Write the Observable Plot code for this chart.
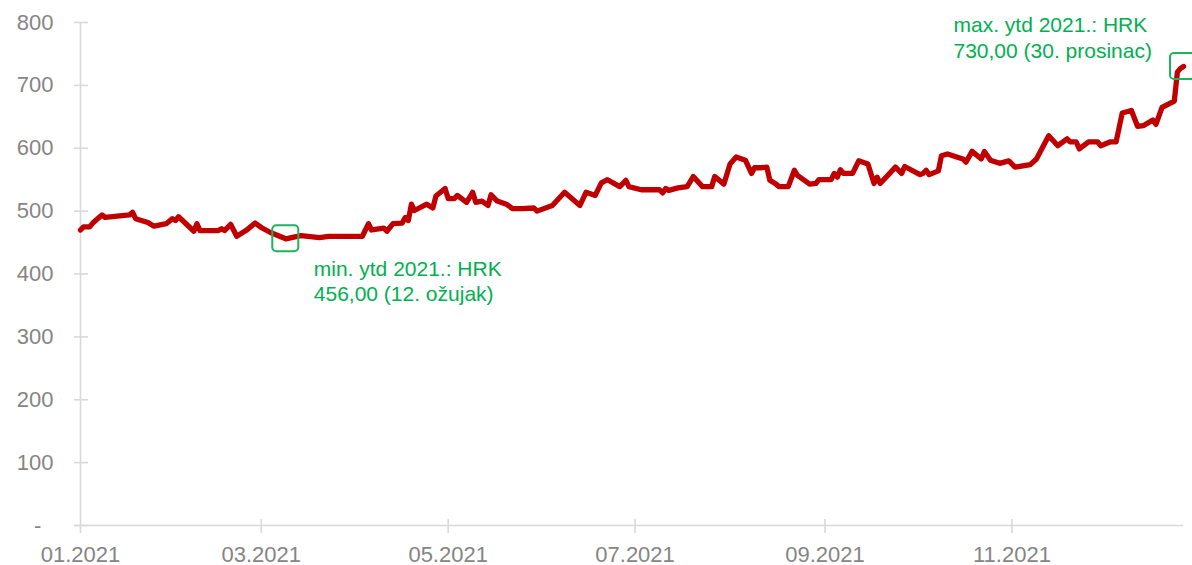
<!DOCTYPE html>
<html><head><meta charset="utf-8">
<script src="https://cdn.jsdelivr.net/npm/d3@7"></script>
<script src="https://cdn.jsdelivr.net/npm/@observablehq/plot@0.6"></script>
<style>html,body{margin:0;padding:0;background:#fff;}</style>
</head><body><div id="chart"></div>
<script>
const dates = [
"2021-01-04","2021-01-05","2021-01-07","2021-01-08","2021-01-11","2021-01-12","2021-01-20","2021-01-21","2021-01-22","2021-01-26",
"2021-01-28","2021-02-01","2021-02-03","2021-02-04","2021-02-05","2021-02-07","2021-02-10","2021-02-11","2021-02-12","2021-02-18",
"2021-02-19","2021-02-20","2021-02-22","2021-02-24","2021-02-27","2021-03-02","2021-03-04","2021-03-07","2021-03-10","2021-03-12",
"2021-03-15","2021-03-16","2021-03-17","2021-03-23","2021-03-26","2021-04-06","2021-04-08","2021-04-09","2021-04-13","2021-04-14",
"2021-04-16","2021-04-19","2021-04-20","2021-04-21","2021-04-22","2021-04-23","2021-04-27","2021-04-29","2021-04-30","2021-05-03",
"2021-05-04","2021-05-06","2021-05-07","2021-05-10","2021-05-12","2021-05-13","2021-05-15","2021-05-17","2021-05-18","2021-05-20",
"2021-05-23","2021-05-25","2021-05-28","2021-06-01","2021-06-02","2021-06-07","2021-06-11","2021-06-16","2021-06-18","2021-06-21",
"2021-06-23","2021-06-25","2021-06-29","2021-07-01","2021-07-02","2021-07-06","2021-07-12","2021-07-13","2021-07-14","2021-07-15",
"2021-07-18","2021-07-21","2021-07-23","2021-07-26","2021-07-29","2021-07-30","2021-08-02","2021-08-04","2021-08-06","2021-08-09",
"2021-08-11","2021-08-12","2021-08-14","2021-08-16","2021-08-17","2021-08-19","2021-08-20","2021-08-23","2021-08-25","2021-08-26",
"2021-08-30","2021-09-01","2021-09-02","2021-09-06","2021-09-07","2021-09-08","2021-09-09","2021-09-10","2021-09-13","2021-09-15",
"2021-09-18","2021-09-20","2021-09-21","2021-09-22","2021-09-27","2021-09-29","2021-09-30","2021-10-05","2021-10-06","2021-10-07",
"2021-10-08","2021-10-11","2021-10-12","2021-10-14","2021-10-19","2021-10-20","2021-10-22","2021-10-25","2021-10-26","2021-10-28",
"2021-10-31","2021-11-03","2021-11-05","2021-11-10","2021-11-12","2021-11-16","2021-11-19","2021-11-22","2021-11-23","2021-11-25",
"2021-11-26","2021-11-29","2021-12-02","2021-12-03","2021-12-06","2021-12-08","2021-12-10","2021-12-13","2021-12-15","2021-12-17",
"2021-12-20","2021-12-21","2021-12-23","2021-12-27","2021-12-28","2021-12-29","2021-12-30"
];
const prices = [
470,475,475,481,494,490,494,498,488,482,
476,480,488,485,491,482,468,480,469,469,
472,469,479,460,469,481,474,466,460,456,
459,460,461,458,460,460,480,470,473,468,
480,481,490,485,511,501,511,505,524,536,
520,520,525,514,530,514,516,509,526,516,
511,504,504,505,500,509,530,509,530,525,
545,550,539,549,539,534,534,529,536,533,
537,539,555,539,539,555,543,575,586,581,
560,569,569,570,549,543,539,539,565,557,
543,544,550,550,560,554,566,560,560,580,
575,544,554,544,570,560,571,558,560,565,
558,564,588,591,583,578,595,583,595,581,
576,580,570,574,583,620,604,615,610,610,
599,610,610,604,610,610,656,660,635,636,
645,638,665,675,721,727,730
];
const xTickDates = ["2021-01-04","2021-03-04","2021-05-04","2021-07-04","2021-09-04","2021-11-04"];
const xTickLabels = ["01.2021","03.2021","05.2021","07.2021","09.2021","11.2021"];
const yTicks = [0,100,200,300,400,500,600,700,800];
const monthNames = ["siječanj","veljača","ožujak","travanj","svibanj","lipanj","srpanj","kolovoz","rujan","listopad","studeni","prosinac"];
const currency = "HRK";
const year = 2021;

const data = dates.map((d, i) => ({date: new Date(d), price: prices[i]}));
const minP = d3.least(data, d => d.price);
const maxP = d3.greatest(data, d => d.price);
const fmt = v => v.toFixed(2).replace(".", ",");
const label = (kind, p) => `${kind} ytd ${year}.: ${currency}\n${fmt(p.price)} (${p.date.getUTCDate()}. ${monthNames[p.date.getUTCMonth()]})`;
const xTicks = xTickDates.map(d => new Date(d));
const tickLabel = new Map(xTicks.map((d, i) => [+d, xTickLabels[i]]));

const W = 1192, H = 565, mL = 80, mR = 9, mT = 22, mB = 40;
const innerW = W - mL - mR, innerH = H - mT - mB;
const grey = "#d9d9d9", textGrey = "#858585", green = "#00b050";

const chart = Plot.plot({
  width: W, height: H,
  marginLeft: mL, marginRight: mR, marginTop: mT, marginBottom: mB,
  style: {fontFamily: "'Liberation Sans', Arial, sans-serif", background: "#fff", overflow: "visible"},
  x: {type: "utc", domain: [data[0].date, data[data.length - 1].date]},
  y: {domain: [0, 800]},
  marks: [
    Plot.ruleY(yTicks, {stroke: grey, strokeWidth: 1.6, insetLeft: -6, insetRight: innerW - 8}),
    Plot.ruleX(xTicks.slice(1), {stroke: grey, strokeWidth: 1.6, insetTop: innerH - 6, insetBottom: -8}),
    Plot.ruleY([0], {stroke: grey, strokeWidth: 1.6, insetLeft: -6}),
    Plot.ruleX([data[0].date], {stroke: grey, strokeWidth: 1.6, insetBottom: -8}),
    Plot.axisY({ticks: yTicks, tickSize: 0, tickPadding: 27, fontSize: 22, fill: textGrey,
      tickFormat: d => d === 0 ? "-\u00a0\u00a0" : String(d), label: null}),
    Plot.axisX({ticks: xTicks, tickSize: 0, tickPadding: 21, fontSize: 22, fill: textGrey,
      tickFormat: d => tickLabel.get(+d), label: null}),
    Plot.line(data, {x: "date", y: "price", stroke: "#c00000", strokeWidth: 5.3, strokeLinejoin: "round", strokeLinecap: "round"}),
    Plot.rect([minP, maxP], {x1: "date", x2: "date", y1: "price", y2: "price", inset: -13, rx: 4,
      fill: "none", stroke: "#1db35a", strokeWidth: 2}),
    Plot.text([minP], {x: "date", y: "price", text: d => label("min.", d), textAnchor: "start", lineAnchor: "top",
      dx: 28, dy: 19, fontSize: 21, lineHeight: 1.2, fill: green}),
    Plot.text([maxP], {x: "date", y: "price", text: d => label("max.", d), textAnchor: "start", lineAnchor: "top",
      dx: -230, dy: -53, fontSize: 21, lineHeight: 1.25, fill: green})
  ]
});
document.getElementById("chart").appendChild(chart);
</script>
</body></html>
